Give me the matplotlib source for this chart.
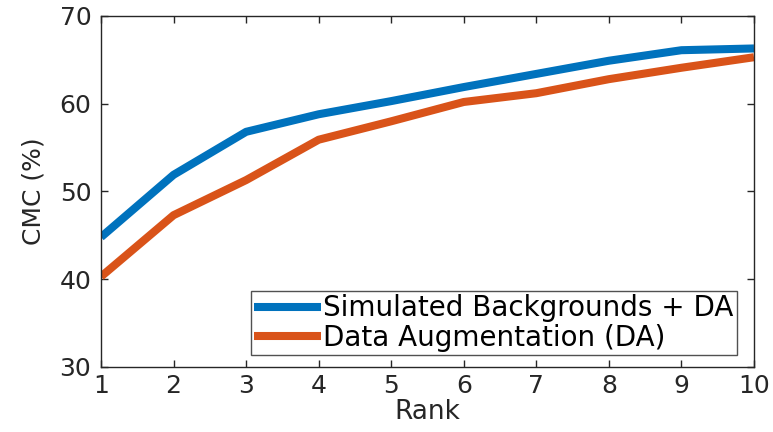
import matplotlib.pyplot as plt
import numpy as np

rank = [1, 2, 3, 4, 5, 6, 7, 8, 9, 10]
sim_bg_da = [44.8, 51.9, 56.8, 58.8, 60.3, 61.9, 63.4, 64.9, 66.1, 66.3]
data_aug = [40.3, 47.3, 51.3, 55.9, 58.0, 60.2, 61.2, 62.8, 64.1, 65.3]
labels = ['Simulated Backgrounds + DA', 'Data Augmentation (DA)']

plt.rcParams['font.family'] = ['DejaVu Sans']

fig = plt.figure(figsize=(7.73, 4.32), dpi=100)
ax = fig.add_axes([0.1307, 0.1505, 0.8447, 0.8125])

ax.plot(rank, sim_bg_da, color='#0072BD', lw=5.8, label=labels[0], solid_capstyle='butt')
ax.plot(rank, data_aug, color='#D95319', lw=5.8, label=labels[1], solid_capstyle='butt')

ax.set_xlim(1, 10)
ax.set_ylim(30, 70)
ax.set_xticks(rank)
ax.set_yticks([30, 40, 50, 60, 70])
ax.tick_params(direction='in', top=True, right=True, length=5, width=1,
               labelsize=18, colors='#262626')
ax.tick_params(axis='y', pad=7)
ax.tick_params(axis='x', pad=5)
for s in ax.spines.values():
    s.set_color('#262626')
    s.set_linewidth(1)

ax.set_xlabel('Rank', fontsize=19, color='#262626', labelpad=1)
ax.set_ylabel('CMC (%)', fontsize=18, color='#262626', labelpad=10)

leg = ax.legend(loc='lower right', bbox_to_anchor=(0.974, 0.034), fontsize=20,
                frameon=True, fancybox=False, edgecolor='#262626',
                handlelength=2.4, handletextpad=0.1, borderpad=0.12,
                labelspacing=0.05, borderaxespad=0)
leg.get_frame().set_linewidth(1)

fig.savefig('out.png', dpi=100)
